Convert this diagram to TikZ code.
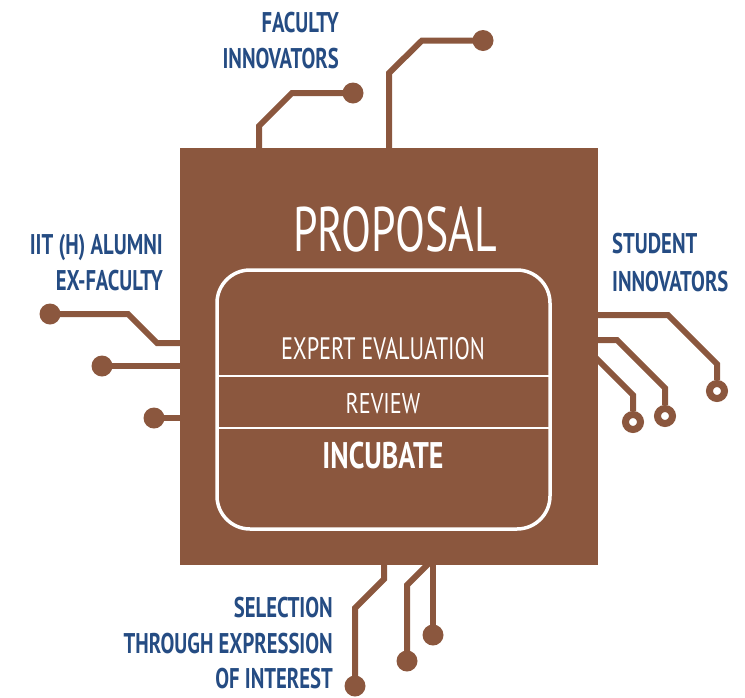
\documentclass[tikz,border=0pt]{standalone}
\usepackage{fontspec}
\newfontfamily\condfont[FakeStretch=0.725]{PT Sans}
\newfontfamily\exfont[FakeStretch=0.72]{PT Sans}
\newfontfamily\revfont[FakeStretch=0.78]{PT Sans}
\newfontfamily\incfont[FakeStretch=0.755]{PT Sans}
\newfontfamily\propfont[FakeStretch=0.695]{PT Sans}
\definecolor{chip}{RGB}{139,87,62}
\definecolor{lblblue}{RGB}{37,76,131}
\begin{document}
\begin{tikzpicture}[x=1pt,y=-1pt,
  trace/.style={draw=chip,line width=6pt,line join=miter},
  pad/.style={circle,fill=chip,minimum size=21pt,inner sep=0pt},
  ring/.style={circle,draw=chip,fill=white,line width=7pt,minimum size=15pt,inner sep=0pt},
  lbl/.style={text=lblblue,inner sep=0pt,font=\condfont\bfseries\fontsize{28.5}{30}\selectfont},
  intext/.style={text=white,inner sep=0pt},
  divider/.style={draw=white,line width=2.5pt}]
\useasboundingbox (0,0) rectangle (745,697);
% pins and pads
\node[pad] (dotA) at (353,93) {};
\node[pad] (dotB) at (483,40.5) {};
\node[pad] (dotC) at (50,314) {};
\node[pad] (dotD) at (102,366) {};
\node[pad] (dotE) at (154,418) {};
\node[pad] (dotI) at (355,686) {};
\node[pad] (dotJ) at (407,661) {};
\node[pad] (dotK) at (433,635) {};
\coordinate (pinA) at (259,152);
\coordinate (pinB) at (389,152);
\coordinate (pinC) at (184,343);
\coordinate (pinD) at (184,366);
\coordinate (pinE) at (184,418);
\coordinate (pinF) at (594,315);
\coordinate (pinG) at (594,340);
\coordinate (pinH) at (590,352);
\coordinate (pinI) at (384,561);
\coordinate (pinJ) at (434,558);
\coordinate (pinK) at (433,561);
\draw[trace] (pinA) -- (259,126) -- (292,93) -- (dotA.center);
\draw[trace] (pinB) -- (389,73) -- (422,40.5) -- (dotB.center);
\draw[trace] (dotC.center) -- (128,314) -- (157,343) -- (pinC);
\draw[trace] (dotD.center) -- (pinD);
\draw[trace] (dotE.center) -- (pinE);
\draw[trace] (pinI) -- (384,579) -- (355,608) -- (dotI.center);
\draw[trace] (pinJ) -- (407,585) -- (dotJ.center);
\draw[trace] (pinK) -- (dotK.center);
\node[ring] (ringF) at (717,391) {};
\node[ring] (ringG) at (665,416) {};
\node[ring] (ringH) at (633,422) {};
\draw[trace] (pinF) -- (668,315) -- (717,364) -- (ringF);
\draw[trace] (pinG) -- (617,340) -- (665,388) -- (ringG);
\draw[trace] (pinH) -- (633,395) -- (ringH);
% chip
\node[fill=chip,minimum width=418pt,minimum height=417pt,inner sep=0pt,outer sep=0pt,anchor=north west] (chip) at (180,148) {};
\node[draw=white,line width=3.5pt,rounded corners=33pt,minimum width=333pt,minimum height=259pt,inner sep=0pt,outer sep=0pt,anchor=north west] (core) at (217,270) {};
\coordinate (d1) at (0,376);
\coordinate (d2) at (0,428);
\draw[divider] (core.west |- d1) -- (core.east |- d1);
\draw[divider] (core.west |- d2) -- (core.east |- d2);
% texts in chip
\node[intext,font=\propfont\fontsize{63}{63}\selectfont,anchor=base] (prop) at (395,251) {PROPOSAL};
\node[intext,font=\exfont\fontsize{31}{31}\selectfont,anchor=base] (expert) at (383,359) {EXPERT EVALUATION};
\node[intext,font=\revfont\fontsize{28.5}{28.5}\selectfont,anchor=base] (review) at (383,413) {REVIEW};
\node[intext,font=\incfont\bfseries\fontsize{37}{37}\selectfont,anchor=base] (incub) at (383,468) {INCUBATE};
% labels
\node[lbl,anchor=base east] (fac1) at (339,32) {FACULTY};
\node[lbl,anchor=base east] (fac2) at (339,68) {INNOVATORS};
\node[lbl,anchor=base east] (alu1) at (163,254) {IIT (H) ALUMNI};
\node[lbl,anchor=base east] (alu2) at (163,290) {EX-FACULTY};
\node[lbl,anchor=base west] (stu1) at (612,253) {STUDENT};
\node[lbl,anchor=base west] (stu2) at (612,291) {INNOVATORS};
\node[lbl,anchor=base east] (sel1) at (333,617) {SELECTION};
\node[lbl,anchor=base east] (sel2) at (333,653) {THROUGH EXPRESSION};
\node[lbl,anchor=base east] (sel3) at (333,688) {OF INTEREST};
\end{tikzpicture}
\end{document}
